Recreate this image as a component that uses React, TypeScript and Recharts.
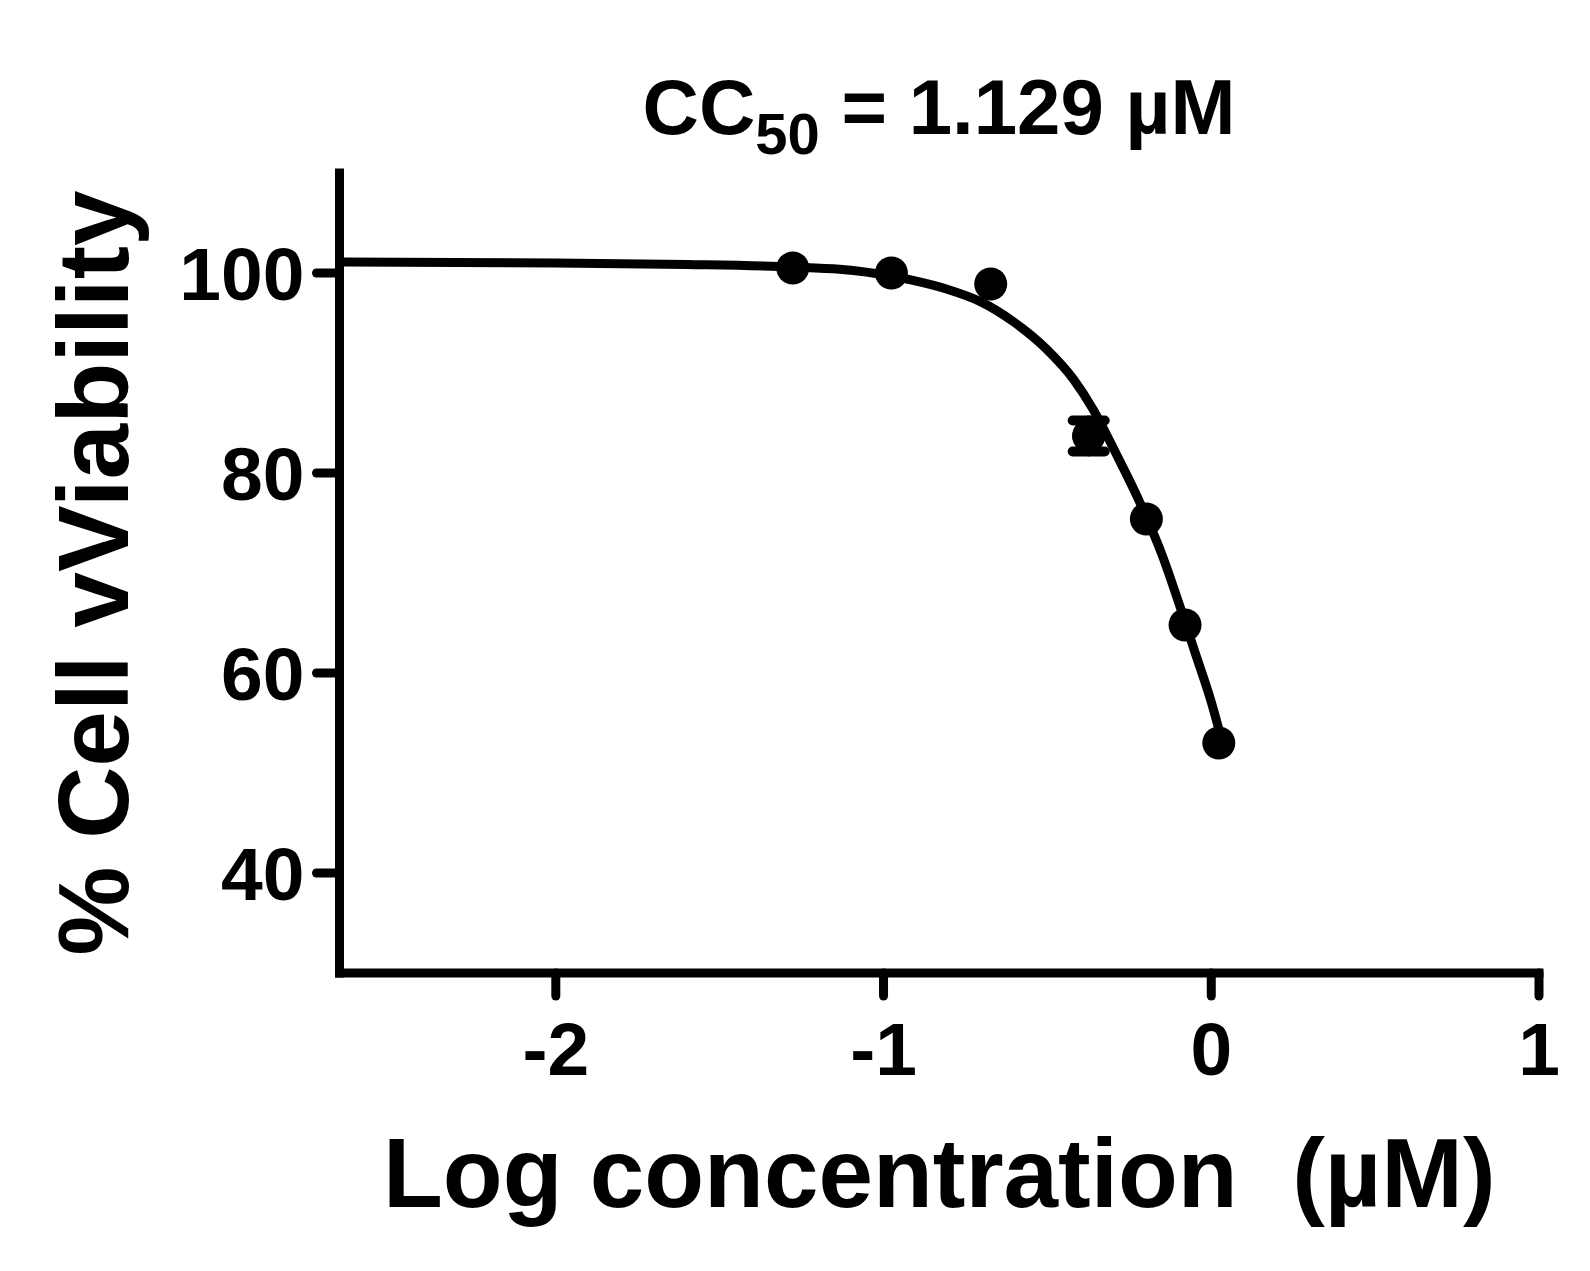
import React from 'react';
import {
  ComposedChart,
  Line,
  Scatter,
  ErrorBar,
  XAxis,
  YAxis,
} from 'recharts';

// measured points (log µM vs % viability)
const logConc = [-1.277, -0.976, -0.673, -0.374, -0.198, -0.08, 0.023];
const viability = [100.5, 100.0, 98.9, 83.7, 75.4, 64.8, 53.0];
const sem = [0, 0, 0, 1.55, 0, 0, 0];

// fitted curve
const fitX = [-2.66, -2.0, -1.6, -1.277, -1.134, -0.977, -0.91, -0.808, -0.706, -0.605, -0.503, -0.421, -0.36, -0.29, -0.218, -0.15, -0.096, -0.05, 0.0, 0.023];
const fitY = [101.1, 101.0, 100.85, 100.6, 100.37, 99.7, 99.26, 98.4, 97.16, 95.16, 92.4, 89.4, 86.33, 81.9, 77.07, 71.8, 66.7, 62.1, 57.1, 54.4];

const xTicks = [-2, -1, 0, 1];
const yTicks = [40, 60, 80, 100];

const points = logConc.map((x, i) => ({ x, y: viability[i], err: sem[i] }));
const errPoints = points.filter(p => p.err > 0);
const curve = fitX.map((x, i) => ({ x, y: fitY[i] }));

const FONT = '"Liberation Sans", Arial, Helvetica, sans-serif';
const axisStroke = { stroke: '#000', strokeWidth: 9, strokeLinecap: 'square' as const };
const tickStroke = { stroke: '#000', strokeWidth: 9, strokeLinecap: 'round' as const };
const tickFont = { fontSize: 75, fontWeight: 700, fill: '#000', fontFamily: FONT };

const Dot = (props: any) => <circle cx={props.cx} cy={props.cy} r={16.5} fill="#000" />;

const App: React.FC = () => {
  return (
    <div style={{ position: 'absolute', left: 0, top: 0, width: 1590, height: 1271, background: '#fff' }}>
      <div
        style={{
          position: 'absolute',
          left: 339,
          top: 68,
          width: 1200,
          textAlign: 'center',
          fontFamily: FONT,
          fontWeight: 700,
          fontSize: 78,
          lineHeight: 1,
          color: '#000',
        }}
      >
        CC<span style={{ fontSize: 58, position: 'relative', top: 20 }}>50</span> = 1.129 µM
      </div>
      <ComposedChart
        width={1590}
        height={1271}
        margin={{ top: 173, right: 51, bottom: 0, left: 0 }}
        style={{ fontFamily: FONT }}
      >
        <XAxis
          type="number"
          dataKey="x"
          domain={[-2.66, 1]}
          ticks={xTicks}
          allowDataOverflow
          height={298}
          axisLine={axisStroke}
          tickLine={tickStroke}
          tickSize={23}
          tickMargin={26}
          tick={tickFont}
          label={{
            value: 'Log concentration\u00A0 (µM)',
            position: 'insideBottom',
            offset: 64,
            style: { fontSize: 98, fontWeight: 700, fill: '#000', fontFamily: FONT },
          }}
        />
        <YAxis
          type="number"
          dataKey="y"
          domain={[30, 110]}
          ticks={yTicks}
          allowDataOverflow
          width={339.5}
          axisLine={axisStroke}
          tickLine={tickStroke}
          tickSize={23}
          tickMargin={12}
          tick={tickFont}
          label={{
            value: '% Cell vViability',
            angle: -90,
            position: 'insideLeft',
            offset: 92,
            style: { fontSize: 100, fontWeight: 700, fill: '#000', fontFamily: FONT, textAnchor: 'middle' },
          }}
        />
        <Line
          data={curve}
          dataKey="y"
          type="monotone"
          stroke="#000"
          strokeWidth={9}
          dot={false}
          activeDot={false}
          isAnimationActive={false}
        />
        <Scatter data={points} dataKey="y" shape={<Dot />} isAnimationActive={false} />
        <Scatter data={errPoints} dataKey="y" shape={<Dot />} isAnimationActive={false}>
          <ErrorBar
            dataKey="err"
            direction="y"
            width={16}
            stroke="#000"
            strokeWidth={10}
            strokeLinecap="round"
            isAnimationActive={false}
          />
        </Scatter>
      </ComposedChart>
    </div>
  );
};

export default App;
